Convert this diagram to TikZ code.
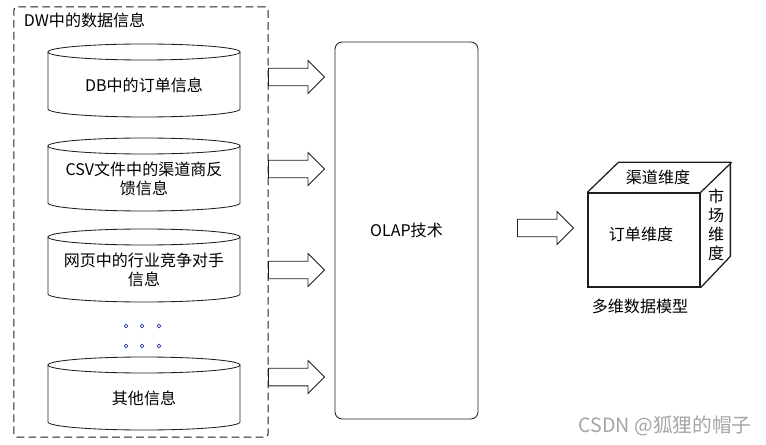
\documentclass[tikz,border=0pt]{standalone}
\usepackage{fontspec}
\setmainfont{Noto Sans CJK SC}
\usetikzlibrary{shapes.arrows}

\begin{document}
\begin{tikzpicture}[x=0.025cm, y=-0.025cm]

% Define colors for styling
\definecolor{lineColor}{RGB}{30,30,30} % Dark gray for outlines
\definecolor{dotColor}{RGB}{40,60,160} % Blue for the ellipsis dots
\definecolor{markColor}{RGB}{165,165,165} % Light gray for the watermark

\tikzset{
  every node/.style={font=\fontsize{11.4}{13.5}\selectfont}, % Text size of all labels
  thinLine/.style={draw=lineColor, line width=0.6pt}, % Outlines of the cylinders
  cubeLine/.style={draw=lineColor, line width=0.9pt}, % Edges of the cube
  dbText/.style={align=center, inner sep=1pt}, % Text inside a cylinder
  blockArrow/.style={
    draw=lineColor, line width=0.6pt,
    single arrow, % Hollow block arrow
    single arrow head extend=0.19cm,
    inner xsep=0pt,
    inner ysep=0.21cm, % Half the width of the shaft
    minimum height=1.4cm, % Length of the arrow
    anchor=west
  }
}

\useasboundingbox (0,0) rectangle (766,445);

% Dashed frame of the data warehouse
\node[draw=lineColor, line width=0.7pt, dash pattern=on 5.5pt off 3pt, rounded corners=2pt,
  minimum width=6.35cm, minimum height=10.75cm] (dw) at (141,222) {};
\node[anchor=west] (dwTitle) at (19,20) {DW中的数据信息};

% Cylinders for the data sources
\foreach \n/\yt/\txt in {db/44/{DB中的订单信息}, csv/138/{CSV文件中的渠道商反\\馈信息},
  web/229/{网页中的行业竞争对手\\信息}, other/357/{其他信息}} {
  \draw[thinLine] (144,\yt+8) ellipse [x radius=2.4cm, y radius=0.2cm];
  \draw[thinLine] (48,\yt+8) -- (48,\yt+65)
    arc [start angle=180, end angle=360, x radius=2.4cm, y radius=0.2cm] -- (240,\yt+8);
  \node[dbText] (\n) at (144,\yt+41) {\txt};
}

% Ellipsis dots
\foreach \x in {126,142,159}
  \foreach \y in {326,346}
    \draw[dotColor, fill=white, line width=0.5pt] (\x,\y) circle [radius=1.4pt];

% OLAP box
\node[draw=lineColor, line width=0.6pt, rounded corners=0.18cm,
  minimum width=3.575cm, minimum height=9.425cm] (olap) at (406.5,230.5) {OLAP技术};

% Block arrows into the OLAP box
\foreach \n/\y in {1/77, 2/169, 3/270, 4/377}
  \node[blockArrow] (toOlap\n) at (268,\y) {};

% Block arrow to the cube
\node[blockArrow] (toCube) at (517,228) {};

% Cube of the multidimensional model
\node[cubeLine, draw, minimum width=2.8cm, minimum height=2.35cm, inner sep=0pt] (front) at (644,240) {};
\draw[cubeLine] (front.north west) -- ++(31,-30) -- ++(112,0) -- ++(0,94) -- (front.south east);
\draw[cubeLine] (front.north east) -- ++(31,-30);

\node (orderDim) at (641,234) {订单维度};
\node (channelDim) at (658,177) {渠道维度};
\node[align=center, inner sep=0pt] (marketDim) at (716,225) {市\\场\\维\\度};
\node (cubeCaption) at (640,306) {多维数据模型};

% Watermark
\node[font=\fontsize{14}{16}\selectfont, text=markColor] (watermark) at (665,426) {CSDN @狐狸的帽子};

\end{tikzpicture}
\end{document}
